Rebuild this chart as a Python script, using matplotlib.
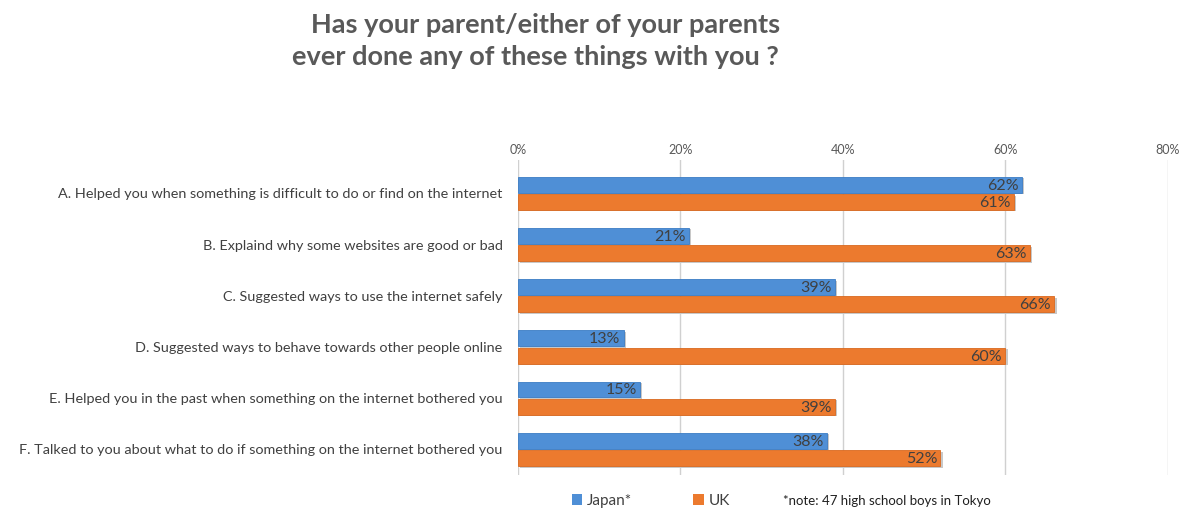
import numpy as np
import matplotlib.pyplot as plt
from matplotlib.patches import Patch

plt.rcParams['font.family'] = ['Lato', 'DejaVu Sans']

# data
questions = [
    "A. Helped you when something is difficult to do or find on the internet",
    "B. Explaind why some websites are good or bad",
    "C. Suggested ways to use the internet safely",
    "D. Suggested ways to behave towards other people online",
    "E. Helped you in the past when something on the internet bothered you",
    "F. Talked to you about what to do if something on the internet bothered you",
]
japan = [62, 21, 39, 13, 15, 38]
uk = [61, 63, 66, 60, 39, 52]
xticks = [0, 20, 40, 60, 80]

blue = '#4f8fd6'
orange = '#ec7a2e'
txt = '#404040'

fig = plt.figure(figsize=(11.94, 5.12), dpi=100)
ax = fig.add_axes([0.4338, 0.0723, 0.5444, 0.6152])

y = np.arange(len(questions))
h = 0.31
off = 0.17
# faint shadow under the bars
ax.barh(y - off + 0.03, japan, height=h, left=0.3, color='#c8c8c8', zorder=1)
ax.barh(y + off + 0.03, uk, height=h, left=0.3, color='#c8c8c8', zorder=1)
b1 = ax.barh(y - off, japan, height=h, color=blue, edgecolor='#3b7cc4', linewidth=0.6, zorder=2)
b2 = ax.barh(y + off, uk, height=h, color=orange, edgecolor='#d9691f', linewidth=0.6, zorder=2)

for vals, yy in ((japan, y - off), (uk, y + off)):
    for v, yv in zip(vals, yy):
        ax.text(v - 0.4, yv + 0.02, f"{v}%", ha='right', va='center',
                fontsize=11.5, color=txt, zorder=3)

ax.set_xlim(0, 80)
ax.set_ylim(5.5, -0.65)
ax.set_xticks(xticks)
ax.set_xticklabels([f"{t}%" for t in xticks])
ax.xaxis.tick_top()
ax.tick_params(axis='x', length=0, labelsize=9, colors='#595959', pad=3)
ax.set_yticks(y)
ax.set_yticklabels(questions)
ax.tick_params(axis='y', length=0, labelsize=10.4, colors=txt, pad=11)
ax.grid(axis='x', color='#d0d0d0', linewidth=1, zorder=0)
ax.set_axisbelow(True)
for s in ax.spines.values():
    s.set_visible(False)

fig.text(0.457, 0.951, "Has your parent/either of your parents", ha='center', va='center',
         fontsize=19.5, fontweight='bold', color='#595959')
fig.text(0.448, 0.889, "ever done any of these things with you ?", ha='center', va='center',
         fontsize=19.5, fontweight='bold', color='#595959')

handles = [Patch(facecolor=blue, label='Japan*'), Patch(facecolor=orange, label='UK')]
fig.legend(handles=handles, loc='center', bbox_to_anchor=(0.545, 0.022), ncol=2,
           frameon=False, fontsize=11, handlelength=0.7, handleheight=0.7,
           handletextpad=0.3, columnspacing=4, labelcolor=txt)
fig.text(0.656, 0.022, "*note: 47 high school boys in Tokyo", ha='left', va='center',
         fontsize=9.5, color='#202020')

fig.savefig('out.png', dpi=100)
